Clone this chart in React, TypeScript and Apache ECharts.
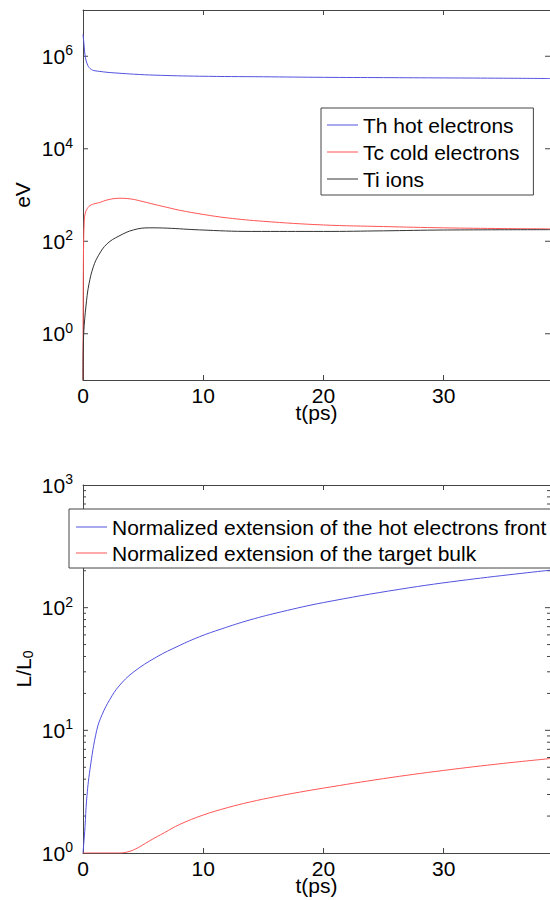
import React, { useEffect, useRef } from "react";
import * as echarts from "echarts";

const FONT = '"Liberation Sans", Arial, Helvetica, sans-serif';
const FRAME = "#444444";
const XMAX = 38.85;

// Top panel: temperatures (eV)
const tTh = [0, 0.05, 0.1, 0.17, 0.25, 0.35, 0.45, 0.6, 0.8, 1.0, 1.4, 2, 3, 4.2, 6, 9.7, 15, 20, 25, 30, 35, 38.85];
const th = [3.0e6, 2.2e6, 1.6e6, 1.05e6, 8.2e5, 6.8e5, 6.0e5, 5.4e5, 5.0e5, 4.85e5, 4.7e5, 4.5e5, 4.3e5, 4.1e5, 3.9e5, 3.7e5, 3.6e5, 3.5e5, 3.45e5, 3.4e5, 3.35e5, 3.3e5];

const tTc = [0, 0.01, 0.03, 0.06, 0.1, 0.17, 0.3, 0.58, 1, 1.4, 2, 3, 4, 5, 6, 7, 8, 10, 12, 15, 20, 25, 30, 35, 38.85];
const tc = [0.1, 3, 30, 120, 250, 390, 480, 590, 650, 690, 780, 850, 820, 720, 620, 540, 470, 380, 320, 270, 225, 208, 195, 188, 185];

const tTi = [0, 0.03, 0.1, 0.3, 0.5, 0.86, 1.3, 2, 3, 4.2, 5.5, 7, 9.7, 14, 20, 25, 30, 38.85];
const ti = [0.1, 0.6, 1.5, 5.3, 12, 28, 50, 88, 130, 176, 195, 192, 176, 163, 163, 168, 175, 178];

// Bottom panel: normalized extensions L/L0
const tFront = [0, 0.05, 0.17, 0.3, 0.58, 1.14, 1.6, 2.24, 3, 4.17, 6.1, 8, 9.7, 11.5, 13.9, 16.5, 20, 26.3, 32, 38.85];
const front = [1, 1.15, 1.64, 2.7, 4.8, 10, 13.5, 17.9, 23, 29.7, 39.5, 49, 58, 67, 79.5, 92.5, 110, 141, 169, 202];

const tBulk = [0, 1, 2, 3, 3.5, 4.3, 5.56, 6.8, 8.05, 10, 12, 13.86, 16, 18, 20, 25, 30, 35, 38.85];
const bulk = [1, 1, 1, 1, 1.01, 1.07, 1.26, 1.47, 1.71, 2.04, 2.34, 2.6, 2.88, 3.13, 3.38, 4.04, 4.71, 5.38, 5.88];

// Tick values for the y axes (drawn inside the frame)
const topMajorTicks = [1, 100, 1e4, 1e6];
const bottomMajorTicks = [10, 100];
const bottomMinorTicks = [2, 3, 4, 5, 6, 7, 8, 9, 20, 30, 40, 50, 60, 70, 80, 90, 200, 300, 400, 500, 600, 700, 800, 900];

const names = {
  th: "Th hot electrons",
  tc: "Tc cold electrons",
  ti: "Ti ions",
  front: "Normalized extension of the hot electrons front",
  bulk: "Normalized extension of the target bulk",
};

const BLUE = "#5252e0";
const RED = "#ff5555";
const BLACK = "#333333";

const zip = (xs: number[], ys: number[]) => xs.map((x, i) => [x, ys[i]]);

function lineSeries(name: string, data: number[][], color: string, idx: number) {
  return {
    type: "line",
    name,
    data,
    xAxisIndex: idx * 2,
    yAxisIndex: idx * 2,
    showSymbol: false,
    symbol: "none",
    smooth: 0.4,
    lineStyle: { color, width: 1 },
    itemStyle: { color },
    emphasis: { disabled: true },
    silent: true,
  };
}

function tickSeries(ticks: number[][], idx: number) {
  return {
    type: "custom",
    xAxisIndex: idx * 2,
    yAxisIndex: idx * 2,
    silent: true,
    encode: { x: 0, y: 1 },
    data: ticks,
    renderItem: (params: any, api: any) => {
      const y = api.value(1);
      const len = api.value(2);
      const pL = api.coord([0, y]);
      const pR = api.coord([XMAX, y]);
      return {
        type: "group",
        children: [
          { type: "line", shape: { x1: pL[0], y1: pL[1], x2: pL[0] + len, y2: pL[1] }, style: { stroke: FRAME, lineWidth: 1 } },
          { type: "line", shape: { x1: pR[0] - len, y1: pR[1], x2: pR[0], y2: pR[1] }, style: { stroke: FRAME, lineWidth: 1 } },
        ],
      };
    },
  };
}

const expLabel = (onlyEven: boolean) => (v: number) => {
  const e = Math.round(Math.log10(v));
  if (onlyEven && e % 2 !== 0) return "";
  return `{b|10}{s|${e}}`;
};

const yRich = {
  b: { fontSize: 21, color: "#000", fontFamily: FONT },
  s: { fontSize: 14, color: "#000", fontFamily: FONT, padding: [0, 0, 12, 0] },
};

function xAxes(grid: number) {
  const base = {
    gridIndex: grid,
    type: "value",
    min: 0,
    max: XMAX,
    interval: 10,
    splitLine: { show: false },
    axisLine: { show: true, onZero: false, lineStyle: { color: FRAME, width: 1 } },
    axisTick: { show: true, inside: true, length: 5, lineStyle: { color: FRAME } },
  };
  return [
    {
      ...base,
      position: "bottom",
      axisLabel: { fontSize: 21, lineHeight: 16, color: "#000", fontFamily: FONT, margin: 7, showMaxLabel: false },
      name: "t(ps)",
      nameLocation: "middle",
      nameGap: 23,
      nameMoveOverlap: false,
      nameTextStyle: { fontSize: 21, lineHeight: 18, color: "#000", fontFamily: FONT },
    },
    { ...base, position: "top", axisLabel: { show: false } },
  ];
}

function yAxes(grid: number, min: number, max: number, onlyEven: boolean, name: any, nameGap: number) {
  const base = {
    gridIndex: grid,
    type: "log",
    logBase: 10,
    min,
    max,
    splitLine: { show: false },
    minorTick: { show: false },
    axisTick: { show: false },
    axisLine: { show: true, onZero: false, lineStyle: { color: FRAME, width: 1 } },
  };
  return [
    {
      ...base,
      position: "left",
      axisLabel: { formatter: expLabel(onlyEven), rich: yRich, margin: 10 },
      name,
      nameLocation: "middle",
      nameGap,
      nameMoveOverlap: false,
      nameTextStyle: {
        fontSize: 21,
        color: "#000",
        fontFamily: FONT,
        rich: {
          n: { fontSize: 21, color: "#000", fontFamily: FONT },
          sub: { fontSize: 14, color: "#000", fontFamily: FONT, padding: [10, 0, 0, 0] },
        },
      },
    },
    { ...base, position: "right", axisLabel: { show: false } },
  ];
}

export default function App() {
  const ref = useRef<HTMLDivElement>(null);
  useEffect(() => {
    if (!ref.current) return;
    const chart = echarts.init(ref.current, null, { renderer: "svg" });
    const option: any = {
      animation: false,
      backgroundColor: "#ffffff",
      textStyle: { fontFamily: FONT },
      grid: [
        { left: 83, top: 10, right: -1, height: 370 },
        { left: 83, top: 485, right: -1, height: 368 },
      ],
      xAxis: [...xAxes(0), ...xAxes(1)],
      yAxis: [
        ...yAxes(0, 0.1, 1e7, true, "eV", 50),
        ...yAxes(1, 1, 1000, false, "{n|L/L}{sub|0}", 48),
      ],
      legend: [
        {
          orient: "vertical",
          left: 321,
          top: 108,
          data: [names.th, names.tc, names.ti],
          icon: "rect",
          itemWidth: 31,
          itemHeight: 1,
          itemGap: 5,
          padding: [6, 14, 5, 6],
          borderColor: FRAME,
          borderWidth: 1,
          borderRadius: 0,
          backgroundColor: "#ffffff",
          selectedMode: false,
          textStyle: { fontSize: 21, color: "#000", fontFamily: FONT, lineHeight: 22 },
        },
        {
          orient: "vertical",
          left: 69,
          top: 509,
          data: [names.front, names.bulk],
          icon: "rect",
          itemWidth: 31,
          itemHeight: 1,
          itemGap: 4,
          padding: [7, 20, 4, 7],
          borderColor: FRAME,
          borderWidth: 1,
          borderRadius: 0,
          backgroundColor: "#ffffff",
          selectedMode: false,
          textStyle: { fontSize: 21, color: "#000", fontFamily: FONT, lineHeight: 22 },
        },
      ],
      series: [
        lineSeries(names.th, zip(tTh, th), BLUE, 0),
        lineSeries(names.tc, zip(tTc, tc), RED, 0),
        lineSeries(names.ti, zip(tTi, ti), BLACK, 0),
        lineSeries(names.front, zip(tFront, front), BLUE, 1),
        lineSeries(names.bulk, zip(tBulk, bulk), RED, 1),
        tickSeries(topMajorTicks.map((v) => [0, v, 5]), 0),
        tickSeries(
          [...bottomMajorTicks.map((v) => [0, v, 5]), ...bottomMinorTicks.map((v) => [0, v, 3])],
          1
        ),
      ],
    };
    chart.setOption(option);
    return () => chart.dispose();
  }, []);
  return (
    <div
      ref={ref}
      style={{ position: "fixed", left: 0, top: 0, width: 550, height: 900, background: "#fff" }}
    />
  );
}
